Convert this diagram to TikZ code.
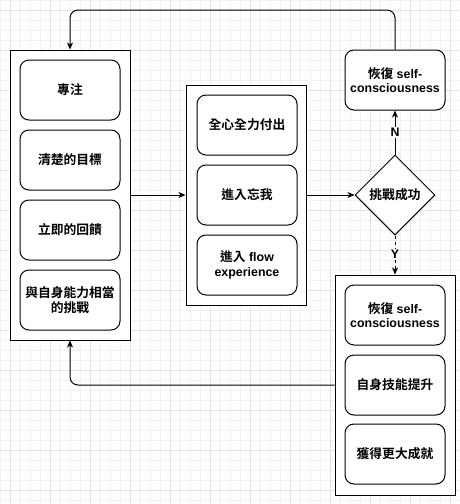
\documentclass[tikz,border=0pt]{standalone}
\usepackage{fontspec}
\setmainfont{Liberation Sans}
\newfontfamily\cjk{Noto Sans CJK TC}[BoldFont={* Bold},Scale=1.03]
\usetikzlibrary{shapes.geometric,arrows.meta,calc}
\definecolor{gridminor}{HTML}{F1F1F1}
\definecolor{gridmajor}{HTML}{E2E2E2}
\tikzset{
  container/.style={draw=black, line width=1pt, fill=white, inner sep=0pt},
  card/.style={draw=black, line width=1pt, fill=white, rounded corners=9pt,
    minimum width=100pt, minimum height=60pt, inner sep=0pt, align=center,
    font=\fontsize{12.4}{14.5}\selectfont\bfseries},
  decision/.style={draw=black, line width=1pt, fill=white, diamond, aspect=1,
    minimum width=80pt, minimum height=80pt, inner sep=0pt, align=center,
    font=\fontsize{12.4}{14.5}\selectfont\bfseries},
  conn/.style={draw=black, line width=1pt, -{Stealth[length=7pt,width=6pt,inset=2pt]}},
  lbl/.style={fill=white, inner sep=1pt, font=\fontsize{12.4}{14}\selectfont\bfseries}
}
\begin{document}
\begin{tikzpicture}[x=1pt,y=-1pt]
\useasboundingbox (0,0) rectangle (459,504);
\fill[white] (0,0) rectangle (459,504);
\foreach \i in {0,10,...,450} \draw[gridminor, line width=0.8pt] (\i,0) -- (\i,504);
\foreach \i in {0,10,...,500} \draw[gridminor, line width=0.8pt] (0,\i) -- (459,\i);
\foreach \i in {10,50,...,450} \draw[gridmajor, line width=0.8pt] (\i,0) -- (\i,504);
\foreach \i in {10,50,...,490} \draw[gridmajor, line width=0.8pt] (0,\i) -- (459,\i);

% containers
\node[container, minimum width=120pt, minimum height=290pt] (left) at (70,195) {};
\node[container, minimum width=120pt, minimum height=220pt] (mid) at (246,195) {};
\node[container, minimum width=120pt, minimum height=220pt] (brc) at (395,385) {};

% left cards
\node[card] (l1) at (70,90) {\cjk\bfseries 專注};
\node[card] (l2) at (70,160) {\cjk\bfseries 清楚的目標};
\node[card] (l3) at (70,230) {\cjk\bfseries 立即的回饋};
\node[card] (l4) at (70,300) {\cjk\bfseries 與自身能力相當\\\cjk\bfseries 的挑戰};

% middle cards
\node[card] (m1) at (247,125) {\cjk\bfseries 全心全力付出};
\node[card] (m2) at (247,195) {\cjk\bfseries 進入忘我};
\node[card] (m3) at (247,265) {{\cjk\bfseries 進入} flow\\experience};

% decision
\node[decision] (dec) at (395,195) {\cjk\bfseries 挑戰成功};

% top right
\node[card] (tr) at (395,80) {{\cjk\bfseries 恢復} self-\\consciousness};

% bottom right cards
\node[card] (b1) at (395,315) {{\cjk\bfseries 恢復} self-\\consciousness};
\node[card] (b2) at (395,385) {\cjk\bfseries 自身技能提升};
\node[card] (b3) at (395,454) {\cjk\bfseries 獲得更大成就};

\coordinate (topy) at (0,10);

% connectors
\draw[conn] (left.east) -- (mid.west);
\draw[conn] (mid.east) -- (dec.west);
\draw[conn] (dec.north) -- node[lbl, pos=0.5] {N} (tr.south);
\draw[conn, dashed] (dec.south) -- node[lbl, pos=0.48] {Y} (brc.north);
\draw[conn, rounded corners=8pt] (tr.north) -- (tr.north |- topy) -| (left.north);
\draw[conn, rounded corners=8pt] (brc.west) -| (left.south);
\end{tikzpicture}
\end{document}
